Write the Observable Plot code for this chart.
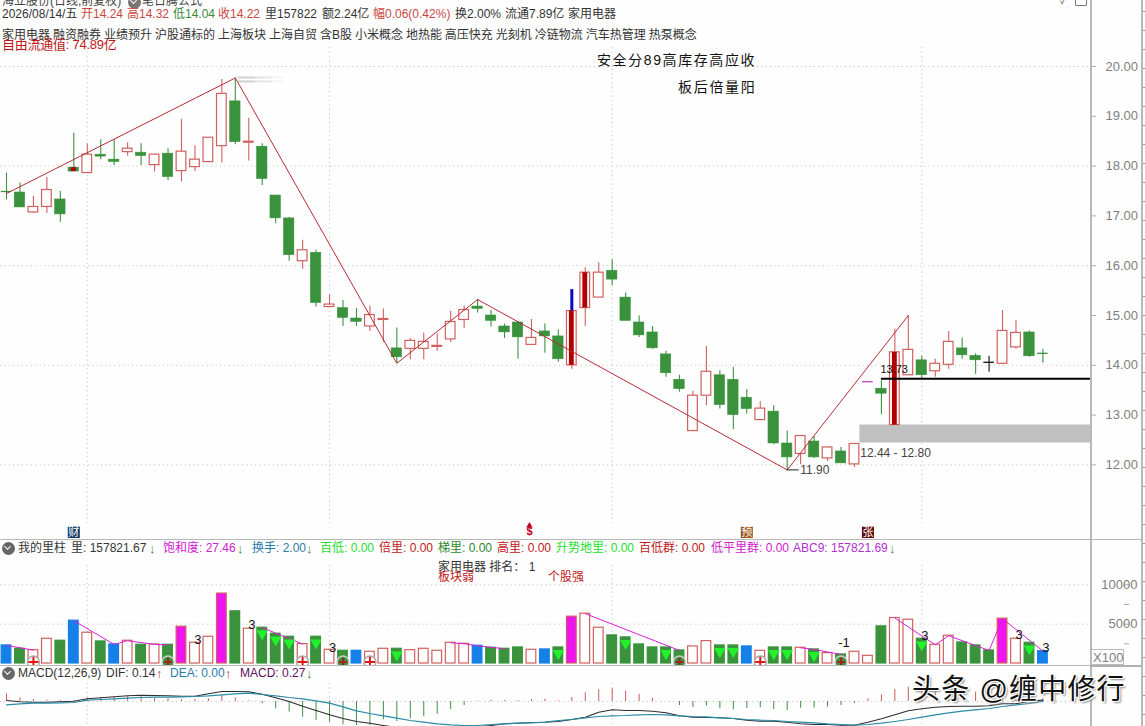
<!DOCTYPE html>
<html>
<head>
<meta charset="utf-8">
<script src="https://cdn.jsdelivr.net/npm/d3@7"></script>
<script src="https://cdn.jsdelivr.net/npm/@observablehq/plot@0.6"></script>
<style>
  html,body{margin:0;padding:0;background:#fefefe;}
  #root{position:relative;width:1145px;height:726px;overflow:hidden;background:#fefefe;font-family:"Liberation Sans","Noto Sans CJK SC",sans-serif;}
  .pane{position:absolute;left:0;width:1145px;overflow:hidden;}
  .lab{position:absolute;white-space:nowrap;line-height:1;}
  .line{position:absolute;background:#b8b8b8;}
</style>
</head>
<body>
<div id="root"></div>
<script>
// ---------- price series (one value per session) ----------
const opens  = [17.49,17.47,17.07,17.18,17.33,17.97,17.86,18.23,18.13,18.28,18.27,18.02,18.25,17.90,17.98,18.08,18.40,19.30,18.47,18.39,17.41,16.95,16.09,16.26,15.17,15.15,14.94,14.78,14.91,14.34,14.33,14.33,14.37,14.52,14.91,15.18,15.00,14.78,14.86,14.41,14.68,14.58,14.00,15.15,15.36,15.90,15.36,14.86,14.66,14.22,13.71,12.68,13.39,13.80,13.71,13.35,12.90,13.07,12.43,12.22,12.47,12.13,12.27,12.01,13.67,13.53,12.80,13.80,14.10,13.88,14.01,14.34,14.19,14.06,14.03,14.36,14.66,14.24];
const closes = [17.47,17.17,17.18,17.52,17.03,17.89,18.23,18.19,18.08,18.35,18.20,18.23,17.78,18.29,18.13,18.57,19.45,18.48,18.49,17.74,16.95,16.21,16.31,15.25,15.22,14.95,14.87,15.01,14.93,14.16,14.49,14.47,14.39,14.87,15.11,15.13,14.89,14.66,14.56,14.55,14.58,14.12,15.09,15.86,15.86,15.72,14.89,14.60,14.34,13.84,13.52,13.39,13.87,13.20,13.00,13.12,13.13,12.43,12.15,12.58,12.15,12.35,12.03,12.42,13.67,13.43,14.26,14.31,13.80,14.03,14.47,14.20,14.10,14.06,14.69,14.65,14.18,14.22];
const highs  = [17.86,17.66,17.39,17.77,17.49,18.66,18.45,18.53,18.53,18.47,18.45,18.23,18.35,18.94,18.41,18.57,19.74,19.77,18.96,18.45,17.41,16.97,16.51,16.31,15.42,15.30,15.14,15.19,15.13,14.75,14.54,14.65,14.63,15.08,15.19,15.32,15.10,14.83,14.88,14.92,14.83,14.71,15.09,15.96,16.06,16.12,15.45,14.99,14.78,14.28,13.80,13.48,14.38,13.89,13.96,13.51,13.27,13.19,12.68,12.59,12.57,12.36,12.35,12.43,13.67,13.69,14.73,15.00,14.18,14.12,14.68,14.55,14.23,14.18,15.10,14.90,14.69,14.32];
const lows   = [17.32,17.17,17.05,17.05,16.87,17.89,17.86,18.13,18.01,18.20,18.01,17.88,17.71,17.68,17.89,18.07,18.06,18.43,18.10,17.61,16.84,16.09,15.93,15.17,15.17,14.78,14.78,14.68,14.46,14.04,14.11,14.11,14.28,14.46,14.74,15.05,14.77,14.54,14.12,14.41,14.24,14.06,13.92,14.78,15.36,15.60,14.89,14.56,14.32,13.76,13.46,12.68,13.19,13.12,12.71,13.02,12.90,12.41,11.90,12.01,12.13,12.07,12.03,11.95,13.67,13.01,12.80,13.80,13.71,13.76,13.92,14.12,13.82,13.86,14.01,14.32,14.16,14.04];
const flaggedCandles = [5,42,43,66];
const zigzagIndex = [0,17,29,35,58,67];
const zigzagPrice = [17.45,19.77,14.04,15.32,11.90,15.00];
const priceTicks = [20,19,18,17,16,15,14,13,12];
const priceGrid = [20,18,16,14,12];
const gridSessions = [6,24,45,68];

// ---------- volume series (x100 lots) ----------
const volumes = [2295,1870,1700,3145,2890,5440,3910,2805,2423,2890,2380,2423,2380,4675,2635,3400,8883,6630,4420,4548,3783,3400,2465,3400,1743,1615,1615,1488,1870,1870,1700,1870,1615,2635,2508,2253,1998,1870,2040,1743,1785,2040,5950,6333,4548,3570,3315,2423,2040,2040,1658,2168,2848,2295,2295,2168,1615,2040,2040,1998,1785,1318,1148,1488,978,4718,5780,5568,3145,2380,3528,2678,2295,1658,5695,3145,2635,1578];
const volumeKinds = "b g r r g b r g b r g r g m r r m g r g g g r g r g b r r g r r r r r b g g g r b g m r r g g g g g g r r g g b r g g r g r g r r g r r g r r g g g m r g b".split(" ");
const downTriangles = [19,20,21,23,29,41,46,49,53,54,57,58,60,68,76];
const plusBadgesLight = [2,22,27,56];
const plusBadgesDark = [12,25,50,62];
const volumeTrendRuns = [[0,2],[5,8,9,11,12],[19,22],[33,34,35,37],[43,50],[59,60,62],[66,69,70,73,74,77]];
const volumeNotes = [[14,3060,"3"],[18,4975,"3"],[24,2040,"3"],[62,2680,"-1"],[68,3570,"3"],[75,3700,"3"],[77,2040,"3"]];

// ---------- MACD series ----------
const dif = [.10,-.03,-.07,-.07,-.03,.03,.27,.37,.47,.57,.63,.60,.57,.53,.53,.77,1.00,1.00,.97,.73,.37,0,-.47,-.90,-1.33,-1.70,-2.00,-2.17,-2.40,-2.60,-2.73,-2.80,-2.83,-2.80,-2.67,-2.53,-2.40,-2.23,-2.17,-2.10,-2.07,-2.00,-1.80,-1.57,-1.07,-.83,-.90,-.90,-.97,-1.13,-1.43,-1.57,-1.60,-1.63,-1.70,-1.87,-1.97,-1.97,-2.07,-2.23,-2.30,-2.30,-2.37,-2.37,-2.07,-1.73,-1.33,-.93,-.73,-.57,-.50,-.47,-.47,-.43,-.23,-.23,.03,.14];
const dea = [-.33,-.23,-.17,-.17,-.13,-.10,.13,.20,.27,.33,.40,.43,.43,.47,.50,.57,.67,.77,.83,.70,.57,.40,.27,.07,-.17,-.53,-.93,-1.20,-1.43,-1.67,-1.90,-2.07,-2.23,-2.33,-2.40,-2.40,-2.30,-2.23,-2.17,-2.13,-2.07,-1.90,-1.80,-1.63,-1.50,-1.43,-1.40,-1.33,-1.30,-1.33,-1.43,-1.50,-1.53,-1.63,-1.70,-1.80,-1.87,-1.90,-2.00,-2.07,-2.13,-2.23,-2.30,-2.37,-2.30,-2.17,-2.00,-1.80,-1.57,-1.33,-1.13,-.97,-.83,-.70,-.50,-.33,-.20,0];
const macdHist = [.77,.37,.20,.13,.10,.10,.33,.37,.47,.50,.53,.33,.27,.20,.20,.27,.67,.37,.07,-.23,-.73,-1.07,-1.57,-1.90,-2.07,-2.33,-2.40,-2.40,-1.83,-2.00,-1.73,-1.50,-1.27,-.80,-.40,.03,.13,.10,.10,.20,.23,.07,.40,.87,1.17,1.27,1.03,.73,.33,0,-.40,-.60,-.47,-.73,-.83,-.70,-.63,-.80,-.90,-.67,-.67,-.57,-.40,-.17,.27,.67,1.20,1.43,1.33,1.27,1.20,1.10,.93,1.10,.87,.67,.33,.27];

// ---------- annotations ----------
const supportLevel = 13.73;
const gapLow = 12.44, gapHigh = 12.80;
const eventIcons = [[5,"财","#103c64"],[55,"预","#9a5a1e"],[64,"张","#600a0a"]];
const volumeTicks = [10000,7500,5000,2500];
const volumeTickLabels = [10000,5000];
const macdZero = [0];

// colours
const UP="#d0605e", DOWN="#3a933c", DEEP="#b00000", PINK="#f012f0", BLUE="#1480e8", BRIGHT="#22f02a", AXIS="#808080", GRID="#c4c4c4";
const sessions = opens.map((o,i)=>({i,o,c:closes[i],h:highs[i],l:lows[i],v:volumes[i],k:volumeKinds[i],hist:macdHist[i],dif:dif[i],dea:dea[i]}));
const BW = 0.39;                    // half body width, in sessions
const AXIS_END = (1090-6)/13.46;    // session position of the right axis
const X = {domain:[0,77],range:[6,6+77*13.46]};
const FONT = '"Liberation Sans","Noto Sans CJK SC",sans-serif';
const baseStyle = {background:"transparent",fontFamily:FONT};
const candleColor = d => d.i===64 ? "#c040c0" : d.i===73 ? "#111" : d.c>=d.o ? UP : DOWN;
const dotted = {stroke:GRID,strokeDasharray:"1.2,3.2",strokeWidth:1};

const root = document.getElementById("root");
function pane(top,h,plot){const d=document.createElement("div");d.className="pane";d.style.top=top+"px";d.style.height=h+"px";d.appendChild(plot);root.appendChild(d);}
function put(text,left,cy,color,size=12,extra=""){const s=document.createElement("span");s.className="lab";s.textContent=text;s.style.cssText=`left:${left}px;top:${cy-size/2}px;color:${color};font-size:${size}px;${extra}`;root.appendChild(s);}
function line(l,t,w,h,c){const d=document.createElement("div");d.className="line";d.style.cssText=`left:${l}px;top:${t}px;width:${w}px;height:${h}px;${c?`background:${c}`:""}`;root.appendChild(d);}
function chevron(cx,cy,bg){const d=document.createElement("div");d.style.cssText=`position:absolute;left:${cx-6.5}px;top:${cy-6.5}px;width:13px;height:13px;border-radius:50%;background:${bg}`;const a=document.createElement("div");a.style.cssText="position:absolute;left:3.6px;top:2.4px;width:4px;height:4px;border-right:1.6px solid #fff;border-bottom:1.6px solid #fff;transform:rotate(45deg)";d.appendChild(a);root.appendChild(d);}

// ---------- price pane ----------
const zig = zigzagIndex.map((i,k)=>({i,p:zigzagPrice[k]}));
pane(0,538,Plot.plot({
  width:1145,height:538,marginLeft:0,marginRight:55,marginTop:0,marginBottom:0,style:baseStyle,
  x:{...X,axis:null},
  y:{domain:[12,20],range:[464.4,66],label:null},
  marks:[
    Plot.ruleY(priceGrid,{x1:-0.45,x2:AXIS_END,...dotted}),
    Plot.ruleX(gridSessions,{y1:20.38,y2:10.82,...dotted}),
    Plot.rect([{}],{x1:63.4,x2:AXIS_END,y1:gapLow,y2:gapHigh,fill:"#c0c0c0"}),
    Plot.ruleX(sessions,{x:"i",y1:"l",y2:"h",stroke:candleColor,strokeWidth:1.1}),
    Plot.ruleY(sessions.filter(d=>d.i===64||d.i===73||d.i===0||d.i===77),{y:"o",x1:d=>d.i-BW,x2:d=>d.i+BW,stroke:candleColor,strokeWidth:1.3}),
    Plot.rect(sessions.filter(d=>d.c>d.o&&![64,73].includes(d.i)),{x1:d=>d.i-BW+.03,x2:d=>d.i+BW-.03,y1:"o",y2:"c",fill:"#fff",stroke:UP,strokeWidth:1.2}),
    Plot.rect(sessions.filter(d=>d.c<d.o&&![0,77].includes(d.i)),{x1:d=>d.i-BW,x2:d=>d.i+BW,y1:"o",y2:"c",fill:DOWN,stroke:DOWN,strokeWidth:.5}),
    Plot.rect(sessions.filter(d=>flaggedCandles.includes(d.i)),{x1:d=>d.i-.18,x2:d=>d.i+.18,y1:"o",y2:"c",fill:DEEP}),
    Plot.ruleX([42],{y1:15.09,y2:15.52,stroke:"#0808c0",strokeWidth:3}),
    Plot.line(zig,{x:"i",y:"p",stroke:"#b82a34",strokeWidth:1}),
    Plot.ruleY([19.78,19.70],{x1:17.2,x2:18.5,stroke:"#999",strokeWidth:2,strokeOpacity:.45}),
    Plot.ruleY([19.78,19.70],{x1:18.5,x2:19.7,stroke:"#999",strokeWidth:2,strokeOpacity:.25}),
    Plot.ruleY([19.78,19.70],{x1:19.7,x2:20.6,stroke:"#999",strokeWidth:2,strokeOpacity:.1}),
    Plot.ruleY([supportLevel],{x1:65,x2:AXIS_END,stroke:"#000",strokeWidth:2}),
    Plot.text(["13.73"],{x:65,y:supportLevel,dx:-1,dy:-9,text:d=>d,textAnchor:"start",fontSize:11,fill:"#111"}),
    Plot.text(["12.44 - 12.80"],{x:63.5,y:gapLow,dx:-1,dy:10,text:d=>d,textAnchor:"start",fontSize:12,fill:"#444"}),
    Plot.ruleY([11.90],{x1:58,x2:58.9,stroke:"#222"}),
    Plot.text(["11.90"],{x:58,y:11.90,dx:13,text:d=>d,textAnchor:"start",fontSize:12,fill:"#444"}),
    Plot.dot(eventIcons,{x:d=>d[0],y:10.64,symbol:"square",r:6.8,fill:d=>d[2]}),
    Plot.text(eventIcons,{x:d=>d[0],y:10.64,text:d=>d[1],fill:"#fff",fontSize:11}),
    Plot.dot(["$"],{x:39,y:10.78,dx:-2,symbol:"triangle",r:2.4,fill:"#c00020"}),
    Plot.text(["$"],{x:39,y:10.66,dx:-2,text:d=>d,fill:"#c00020",fontSize:11,fontWeight:"bold"}),
    Plot.axisY(priceTicks,{anchor:"right",tickSize:5,tickPadding:10,tickFormat:d3.format(".2f"),fontSize:13,stroke:"#aaa",label:null,fill:AXIS})
  ]
}));

// ---------- volume pane ----------
const kindFill = {g:DOWN,r:"#fff",b:BLUE,m:PINK};
const kindStroke = {g:DOWN,r:UP,b:BLUE,m:UP};
const trendPts = volumeTrendRuns.flatMap((run,z)=>run.map(i=>({i,v:volumes[i],z})));
pane(539,126,Plot.plot({
  width:1145,height:126,marginLeft:0,marginRight:55,marginTop:0,marginBottom:0,style:baseStyle,
  x:{...X,axis:null},
  y:{domain:[0,10000],range:[124,45.3],label:null},
  marks:[
    Plot.ruleY(volumeTickLabels,{x1:-0.45,x2:AXIS_END,...dotted}),
    Plot.ruleX(gridSessions,{y1:0,y2:12755,...dotted}),
    Plot.rect(sessions,{x1:d=>d.i-BW+.03,x2:d=>d.i+BW-.03,y1:0,y2:"v",fill:d=>kindFill[d.k],stroke:d=>kindStroke[d.k],strokeWidth:1.2}),
    Plot.line(trendPts,{x:"i",y:"v",z:"z",stroke:"#d820d8",strokeWidth:1}),
    Plot.dot(downTriangles.map(i=>sessions[i]),{x:"i",y:"v",symbol:"triangle",rotate:180,r:4.3,dy:6,fill:BRIGHT}),
    Plot.dot(plusBadgesLight,{x:d=>d,y:200,r:6,fill:"#fff",stroke:"#aaa"}),
    Plot.dot(plusBadgesLight,{x:d=>d,y:200,symbol:"plus",r:3.4,stroke:"#e01818",strokeWidth:2}),
    Plot.dot(plusBadgesDark,{x:d=>d,y:200,r:6,fill:DOWN,stroke:"#ccc"}),
    Plot.dot(plusBadgesDark,{x:d=>d,y:200,symbol:"plus",r:2.6,stroke:"#a82020",strokeWidth:2}),
    Plot.text(volumeNotes,{x:d=>d[0],y:d=>d[1],dx:3,text:d=>d[2],fontSize:13,fill:"#111"}),
    Plot.axisY(volumeTicks,{anchor:"right",tickSize:5,tickPadding:9,tickFormat:d=>volumeTickLabels.includes(d)?d3.format("d")(d):"",fontSize:13,stroke:"#aaa",label:null,fill:AXIS,textAnchor:"end",dx:33})
  ]
}));

// ---------- MACD pane ----------
pane(665,61,Plot.plot({
  width:1145,height:61,marginLeft:0,marginRight:55,marginTop:0,marginBottom:0,style:baseStyle,
  x:{...X,axis:null},
  y:{domain:[0,1],range:[36,26],label:null,axis:null},
  marks:[
    Plot.ruleY(macdZero,{x1:-0.45,x2:AXIS_END,...dotted}),
    Plot.ruleX(gridSessions,{y1:1.8,y2:-3.6,...dotted}),
    Plot.ruleX(sessions,{x:"i",y1:0,y2:"hist",stroke:d=>d.hist>=0?"#cf5a58":"#3f8f44"}),
    Plot.line(sessions,{x:"i",y:"dif",stroke:"#2c2c34",strokeWidth:1.1}),
    Plot.line(sessions,{x:"i",y:"dea",stroke:"#2b8ca6",strokeWidth:1.2})
  ]
}));

// ---------- frame lines ----------
line(0,539,1141,1);
line(0,665,1091,1);
line(1090,0,1.5,726);
line(1090,665,51,2,"#b0b0b0");
line(1141,0,1.5,726);
const strip=document.createElement("div");
strip.style.cssText="position:absolute;left:1143px;top:11px;width:2px;height:715px;background:repeating-linear-gradient(to bottom,#999 0,#999 1px,transparent 1px,transparent 19px)";
root.appendChild(strip);
const xb=document.createElement("div");
xb.style.cssText="position:absolute;left:1091px;top:649px;width:31px;height:14px;border:1px solid #bbb;background:#fefefe";
root.appendChild(xb);
put("X100",1093,657,"#808080",13);
const corner=document.createElement("div");
corner.style.cssText="position:absolute;left:1075px;top:-3px;width:10px;height:7px;border:1px solid #777;border-radius:1px";
root.appendChild(corner);
put("✓",1060,1,"#555",10);

// ---------- header rows ----------
const INK="#333", RED="#c8483e", GRN="#3a8a3a";
put("海立股份(日线,前复权)",2,1,"#444",12);
chevron(134,2,"#777");
put("笔日腾公式",142,1,"#444",12);
put("2026/08/14/五",2,14,INK,12);
put("开14.24",81,14,RED); put("高14.32",127,14,RED); put("低14.04",173,14,GRN); put("收14.22",218,14,RED);
put("里157822",265,14,INK); put("额2.24亿",322,14,INK); put("幅0.06(0.42%)",373,14,RED);
put("换2.00%",455,14,INK); put("流通7.89亿",505,14,INK); put("家用电器",568,14,INK);
put("家用电器 融资融券 业绩预升 沪股通标的 上海板块 上海自贸 含B股 小米概念 地热能 高压快充 光刻机 冷链物流 汽车热管理 热泵概念",2,35,INK,12,"word-spacing:-0.35px");
put("自由流通值: 74.89亿",2,44,"#c01818",13,"letter-spacing:-0.25px");
put("安全分89高库存高应收",597,60,"#111",14,"letter-spacing:1.6px");
put("板后倍量阳",678,87,"#111",14,"letter-spacing:1.7px");

// volume header
chevron(8,548,"#666");
put("我的里柱",18,548,INK);
put("里: 157821.67",71,548,INK); put("↓",149,548,GRN,13);
put("饱和度: 27.46",163,548,"#d020d0"); put("↓",237,548,GRN,13);
put("换手: 2.00",252,548,"#2a7ca8"); put("↓",306,548,GRN,13);
put("百低: 0.00",320,548,"#22e030");
put("倍里: 0.00",379,548,"#c02020");
put("梯里: 0.00",438,548,"#2a8a2a");
put("高里: 0.00",497,548,"#c02020");
put("升势地里: 0.00",556,548,"#22e030");
put("百低群: 0.00",639,548,"#c02020");
put("低平里群: 0.00",711,548,"#d020d0");
put("ABC9: 157821.69",793,548,"#b030d0"); put("↓",889,548,GRN,13);
put("家用电器 排名： 1",438,567,"#333");
put("板块弱",438,577,"#c02020");
put("个股强",548,577,"#c02020");

// MACD header
chevron(8,673,"#666");
put("MACD(12,26,9)",18,673,INK);
put("DIF: 0.14",106,673,INK); put("↑",156,673,"#c03030",13);
put("DEA: 0.00",170,673,"#2a7ca8"); put("↑",225,673,"#c03030",13);
put("MACD: 0.27",240,673,"#601060"); put("↓",306,673,GRN,13);

// watermark
put("头条 @缠中修行",912,690,"#111",28,"text-shadow:1px 1px 0 #fff,-1px -1px 0 #fff,1px -1px 0 #fff,-1px 1px 0 #fff,2px 2px 2px #888;letter-spacing:1.2px");
</script>
</body>
</html>
